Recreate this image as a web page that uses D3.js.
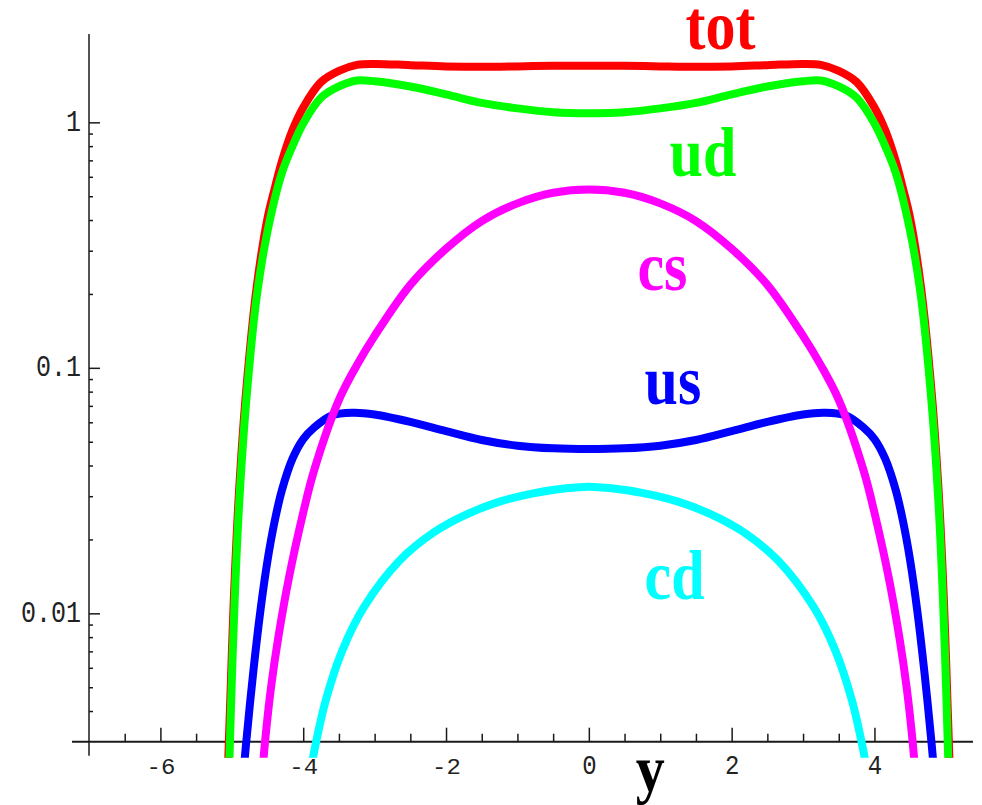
<!DOCTYPE html>
<html><head><meta charset="utf-8">
<script src="https://cdn.jsdelivr.net/npm/d3@7"></script>
<style>body{margin:0;background:#fff}svg{display:block}</style>
</head><body><svg id="c" width="982" height="805"></svg>
<script>
// ---- data (rapidity y, value) ----
const rapTot = [-5.07,-5.02,-4.97,-4.9,-4.8,-4.65,-4.5,-4.4,-4.3,-4.15,-4.0,-3.75,-3.5,-3.25,-3.0,-2.5,-2.0,-1.5,-1.0,-0.5,0,0.5,1.0,1.5,2.0,2.5,3.0,3.25,3.5,3.75,4.0,4.15,4.3,4.4,4.5,4.65,4.8,4.9,4.97,5.02,5.07];
const valTot = [0.0017,0.0046,0.0118,0.031,0.080,0.215,0.407,0.537,0.692,0.93,1.15,1.46,1.62,1.714,1.73,1.71,1.69,1.683,1.69,1.70,1.70,1.70,1.69,1.683,1.69,1.71,1.73,1.714,1.62,1.46,1.15,0.93,0.692,0.537,0.407,0.215,0.080,0.031,0.0118,0.0046,0.0017];

const rapUd = [-5.05,-5.01,-4.96,-4.9,-4.8,-4.65,-4.5,-4.3,-4.15,-4.0,-3.75,-3.5,-3.25,-3.0,-2.5,-2.0,-1.5,-1.0,-0.5,0,0.5,1.0,1.5,2.0,2.5,3.0,3.25,3.5,3.75,4.0,4.15,4.3,4.5,4.65,4.8,4.9,4.96,5.01,5.05];
const valUd = [0.0017,0.0043,0.0113,0.027,0.072,0.196,0.36,0.62,0.80,0.99,1.26,1.40,1.48,1.47,1.40,1.30,1.20,1.14,1.10,1.09,1.10,1.14,1.20,1.30,1.40,1.47,1.48,1.40,1.26,0.99,0.80,0.62,0.36,0.196,0.072,0.027,0.0113,0.0043,0.0017];

const rapCs = [-4.6,-4.52,-4.45,-4.35,-4.2,-4.0,-3.85,-3.5,-3.25,-3.0,-2.5,-2.0,-1.5,-1.0,-0.5,0,0.5,1.0,1.5,2.0,2.5,3.0,3.25,3.5,3.85,4.0,4.2,4.35,4.45,4.52,4.6];
const valCs = [0.00182,0.00331,0.00501,0.00794,0.01396,0.0257,0.0380,0.0740,0.1023,0.1349,0.2178,0.3055,0.3963,0.4677,0.5164,0.533,0.5164,0.4677,0.3963,0.3055,0.2178,0.1349,0.1023,0.0740,0.0380,0.0257,0.01396,0.00794,0.00501,0.00331,0.00182];

const rapUs = [-4.86,-4.8,-4.7,-4.6,-4.5,-4.4,-4.3,-4.15,-4.0,-3.85,-3.6,-3.3,-3.0,-2.5,-2.0,-1.5,-1.0,-0.5,0,0.5,1.0,1.5,2.0,2.5,3.0,3.3,3.6,3.85,4.0,4.15,4.3,4.4,4.5,4.6,4.7,4.8,4.86];
const valUs = [0.00186,0.00295,0.00575,0.01023,0.01641,0.02371,0.03162,0.04266,0.05129,0.05702,0.06397,0.06561,0.06457,0.06026,0.05521,0.05082,0.04819,0.04699,0.04667,0.04699,0.04819,0.05082,0.05521,0.06026,0.06457,0.06561,0.06397,0.05702,0.05129,0.04266,0.03162,0.02371,0.01641,0.01023,0.00575,0.00295,0.00186];

const rapCd = [-3.95,-3.88,-3.82,-3.68,-3.45,-3.15,-2.65,-2.18,-1.72,-1.25,-0.78,-0.32,0,0.32,0.78,1.25,1.72,2.18,2.65,3.15,3.45,3.68,3.82,3.88,3.95];
const valCd = [0.00186,0.00243,0.00299,0.00447,0.00708,0.01059,0.01641,0.02128,0.02523,0.0285,0.0308,0.0323,0.0328,0.0323,0.0308,0.0285,0.02523,0.02128,0.01641,0.01059,0.00708,0.00447,0.00299,0.00243,0.00186];

const seriesNames = ["tot","ud","us","cd","cs"];
const seriesColors = ["#ff0000","#00ff00","#0000ff","#00ffff","#ff00ff"];
const xMajorTicks = [-6,-4,-2,0,2,4];
const xMinorTicks = [-6.5,-5.5,-5,-4.5,-3.5,-3,-2.5,-1.5,-1,-0.5,0.5,1,1.5,2.5,3,3.5,4.5,5];
const yMajorTicks = [0.01,0.1,1];
const yTickLabels = ["0.01","0.1","1"];
const yMinorTicks = [0.004,0.005,0.006,0.007,0.008,0.009,0.02,0.03,0.04,0.05,0.06,0.07,0.08,0.09,0.2,0.3,0.4,0.5,0.6,0.7,0.8,0.9];

// ---- chart ----
const W = 982, H = 805;
const svg = d3.select("#c");
const x = d3.scaleLinear().domain([-7, 5.38]).range([89, 973]);
const y = d3.scaleLog().domain([0.003, 2.29]).range([741.7, 34]);
const x0 = x.range()[0], yb = y.range()[0];

const defs = svg.append("defs");
defs.append("clipPath").attr("id","clip").append("rect")
  .attr("x",0).attr("y",0).attr("width",W).attr("height",yb+16);

const series = [
  {rap: rapTot, val: valTot},
  {rap: rapUd, val: valUd},
  {rap: rapUs, val: valUs},
  {rap: rapCd, val: valCd},
  {rap: rapCs, val: valCs}
];
const line = d3.line().x(d => x(d[0])).y(d => y(d[1])).curve(d3.curveCatmullRom.alpha(0.5));

// axes
const axCol = "#1a1a1a";
const gx = svg.append("g").attr("transform", `translate(0,${yb})`);
gx.append("g").call(d3.axisTop(x).tickValues(xMajorTicks).tickSize(14).tickFormat(""))
  .call(g => g.select(".domain").remove());
gx.append("g").call(d3.axisTop(x).tickValues(xMinorTicks).tickSize(8).tickFormat(""))
  .call(g => g.select(".domain").remove());
gx.selectAll("line").attr("stroke", axCol).attr("stroke-width", 1.5);
const gxl = gx.append("g").call(d3.axisBottom(x).tickValues(xMajorTicks).tickSize(0).tickFormat(d => String(d)));
gxl.select(".domain").remove();
gxl.selectAll("text")
  .attr("y", 0).attr("dy", 0)
  .attr("transform", d => `translate(0,32) scale(1,${d < 0 ? 0.9 : 1.15})`)
  .attr("font-family", "'Liberation Mono', monospace")
  .attr("font-size", 24).attr("fill", "#222");
gx.append("line").attr("x1", x0 - 17).attr("x2", x.range()[1]).attr("y1", 0).attr("y2", 0)
  .attr("stroke", axCol).attr("stroke-width", 2);

const gy = svg.append("g").attr("transform", `translate(${x0},0)`);
gy.append("g").call(d3.axisRight(y).tickValues(yMajorTicks).tickSize(11).tickFormat(""))
  .call(g => g.select(".domain").remove());
gy.append("g").call(d3.axisRight(y).tickValues(yMinorTicks).tickSize(4).tickFormat(""))
  .call(g => g.select(".domain").remove());
gy.selectAll("line").attr("stroke", axCol).attr("stroke-width", 1.5);
const gyl = gy.append("g").call(d3.axisLeft(y).tickValues(yMajorTicks).tickSize(0).tickPadding(8)
  .tickFormat((d, i) => yTickLabels[i]));
gyl.select(".domain").remove();
gyl.selectAll("text")
  .attr("x", 0).attr("dy", 0)
  .attr("transform", "translate(-8,8) scale(1,1.15)")
  .attr("font-family", "'Liberation Mono', monospace")
  .attr("font-size", 25).attr("fill", "#222");
gy.append("line").attr("x1", 0).attr("x2", 0).attr("y1", y.range()[1]).attr("y2", yb + 14)
  .attr("stroke", axCol).attr("stroke-width", 1.5);

// curves
const gc = svg.append("g").attr("clip-path", "url(#clip)");
series.forEach((s, i) => {
  const pts = s.rap.map((r, k) => [r, s.val[k]]);
  gc.append("path").attr("d", line(pts)).attr("fill", "none")
    .attr("stroke", seriesColors[i]).attr("stroke-width", 8).attr("stroke-linejoin", "round");
});

// series labels
const labelAnchors = {tot: [1.354, 1.99], ud: [1.13, 0.604], cs: [0.68, 0.207], us: [0.78, 0.0712], cd: [0.78, 0.01143]};
seriesNames.forEach((n, i) => {
  const a = labelAnchors[n];
  svg.append("text").text(n)
    .attr("transform", `translate(${x(a[0])},${y(a[1])}) scale(1,1.15)`)
    .attr("font-family", "'Liberation Serif', 'Times New Roman', serif")
    .attr("font-weight", "bold").attr("font-size", 60).attr("fill", seriesColors[i]);
});

// axis title
svg.append("text").text("y")
  .attr("transform", `translate(${x(0.86)},${yb + 49}) scale(1,1.12)`)
  .attr("text-anchor", "middle")
  .attr("font-family", "'Liberation Serif', 'Times New Roman', serif")
  .attr("font-weight", "bold").attr("font-size", 58).attr("fill", "#000");
</script></body></html>
